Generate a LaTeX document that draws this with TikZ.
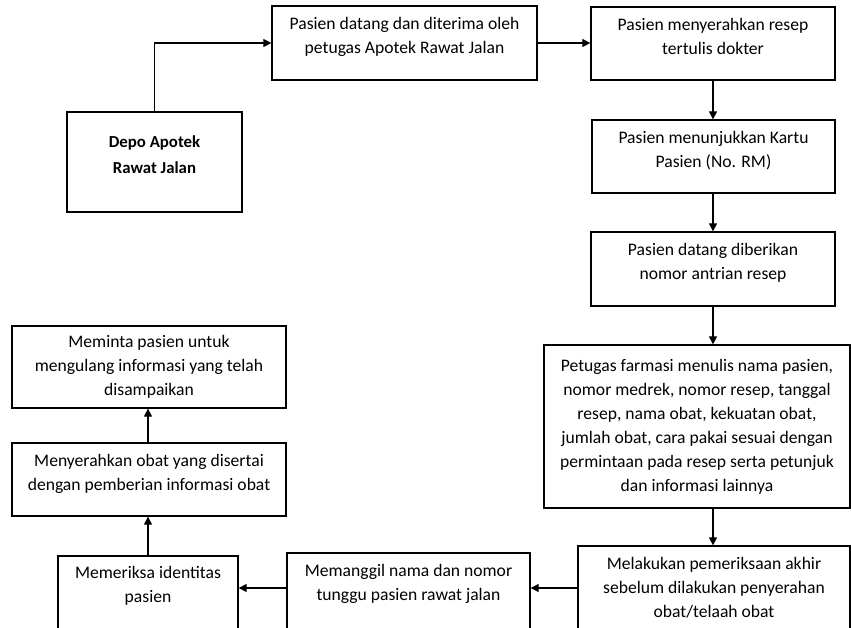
\documentclass[tikz,border=0pt]{standalone}
\usepackage{fontspec}
\setmainfont{Carlito}
\usetikzlibrary{arrows.meta}
\begin{document}
\begin{tikzpicture}[x=1pt, y=-1pt, line width=1.2pt, >={Triangle[length=8pt, width=8pt]},
  box/.style={draw, line width=1.3pt, align=center, inner sep=0pt, font=\fontsize{17.6}{24}\selectfont},
  lift/.style={text depth=15pt}]
  \useasboundingbox (0,0) rectangle (851,628);
  \clip (0,0) rectangle (851,628);

  \node[box, lift, minimum width=175, minimum height=100, font=\fontsize{16.8}{26}\selectfont\bfseries] (depo) at (154.5,162) {Depo Apotek\\Rawat Jalan};
  \node[box, lift, minimum width=265, minimum height=74] (datang) at (404.5,43) {Pasien datang dan diterima oleh\\petugas Apotek Rawat Jalan};
  \node[box, lift, minimum width=244, minimum height=73] (resep) at (713,43.5) {Pasien menyerahkan resep\\tertulis dokter};
  \node[box, lift, minimum width=243, minimum height=73] (kartu) at (713.5,156.5) {Pasien menunjukkan Kartu\\Pasien (No. RM)};
  \node[box, lift, minimum width=244, minimum height=74] (antri) at (713,269) {Pasien datang diberikan\\nomor antrian resep};
  \node[box, minimum width=306, minimum height=163] (tulis) at (697,426.5) {Petugas farmasi menulis nama pasien,\\nomor medrek, nomor resep, tanggal\\resep, nama obat, kekuatan obat,\\jumlah obat, cara pakai sesuai dengan\\permintaan pada resep serta petunjuk\\dan informasi lainnya};
  \node[box, minimum width=272, minimum height=84] (akhir) at (714,588) {Melakukan pemeriksaan akhir\\sebelum dilakukan penyerahan\\obat/telaah obat};
  \node[box, minimum width=243, minimum height=84, text depth=26pt] (panggil) at (408.5,595) {Memanggil nama dan nomor\\tunggu pasien rawat jalan};
  \node[box, minimum width=180, minimum height=84, text depth=28pt] (identitas) at (148,598) {Memeriksa identitas\\pasien};
  \node[box, lift, minimum width=274, minimum height=73] (serah) at (149,479.5) {Menyerahkan obat yang disertai\\dengan pemberian informasi obat};
  \node[box, minimum width=274, minimum height=82] (ulang) at (149,367) {Meminta pasien untuk\\mengulang informasi yang telah\\disampaikan};

  \draw[->] (depo.north) |- (datang.west);
  \draw[->] (datang.east) -- (datang.east -| resep.west);
  \draw[->] (resep.south) -- (resep.south |- kartu.north);
  \draw[->] (resep.south |- kartu.south) -- (resep.south |- antri.north);
  \draw[->] (resep.south |- antri.south) -- (resep.south |- tulis.north);
  \draw[->] (resep.south |- tulis.south) -- (resep.south |- akhir.north);

  \draw[->] (akhir.west) -- (akhir.west -| panggil.east);
  \draw[->] (akhir.west -| panggil.west) -- (akhir.west -| identitas.east);
  \draw[->] (identitas.north) -- (identitas.north |- serah.south);
  \draw[->] (identitas.north |- serah.north) -- (identitas.north |- ulang.south);
\end{tikzpicture}
\end{document}
